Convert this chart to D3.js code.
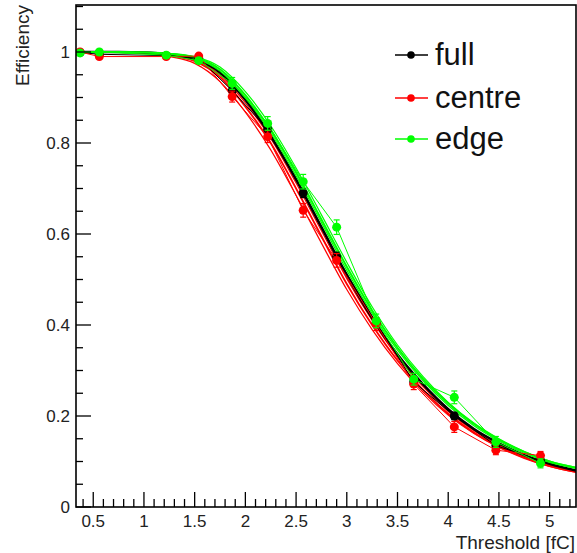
<!DOCTYPE html>
<html><head><meta charset="utf-8">
<script src="https://cdn.jsdelivr.net/npm/d3@7"></script>
<style>body{margin:0;background:#fff;}svg{display:block;font-family:"Liberation Sans",Arial,sans-serif;}</style>
</head><body><svg id="c" width="577" height="553"></svg>
<script>
// ---- data ----
const pointX = [0.37, 0.56, 1.22, 1.54, 1.87, 2.22, 2.57, 2.9, 3.29, 3.66, 4.06, 4.47, 4.91];
const fullY  = [0.999, 0.995, 0.992, 0.986, 0.915, 0.83, 0.69, 0.55, 0.405, 0.275, 0.20, 0.135, 0.102];
const fullErr= [0.002, 0.003, 0.003, 0.004, 0.008, 0.009, 0.010, 0.010, 0.010, 0.008, 0.008, 0.007, 0.006];
const centreY  = [1.0, 0.99, 0.99, 0.991, 0.902, 0.814, 0.652, 0.542, 0.402, 0.27, 0.176, 0.125, 0.113];
const centreErr= [0.003, 0.004, 0.004, 0.005, 0.012, 0.013, 0.015, 0.015, 0.014, 0.012, 0.012, 0.010, 0.009];
const edgeY  = [0.998, 1.0, 0.993, 0.981, 0.931, 0.843, 0.715, 0.615, 0.409, 0.281, 0.241, 0.143, 0.096];
const edgeErr= [0.003, 0.004, 0.004, 0.006, 0.013, 0.015, 0.016, 0.016, 0.015, 0.013, 0.014, 0.012, 0.010];

const fitX = [0.33, 0.75, 1.0, 1.25, 1.5, 1.75, 2.0, 2.25, 2.5, 2.75, 3.0, 3.25, 3.5, 3.75, 4.0, 4.25, 4.5, 4.75, 5.0, 5.26];
const fitFull   = [1.0, 1.0, 0.999, 0.995, 0.985, 0.955, 0.895, 0.815, 0.72, 0.615, 0.51, 0.415, 0.335, 0.27, 0.215, 0.172, 0.14, 0.114, 0.095, 0.08];
const fitCentreA= [1.0, 1.0, 0.998, 0.993, 0.98, 0.945, 0.88, 0.80, 0.70, 0.595, 0.49, 0.40, 0.322, 0.258, 0.205, 0.164, 0.133, 0.109, 0.09, 0.077];
const fitCentreB= [1.0, 0.999, 0.997, 0.99, 0.975, 0.935, 0.868, 0.785, 0.685, 0.58, 0.478, 0.39, 0.315, 0.253, 0.202, 0.162, 0.131, 0.107, 0.089, 0.076];
const fitCentreC= [1.0, 1.0, 0.999, 0.995, 0.983, 0.95, 0.888, 0.81, 0.712, 0.607, 0.502, 0.41, 0.33, 0.265, 0.21, 0.168, 0.136, 0.111, 0.092, 0.078];
const fitEdgeA  = [1.0, 1.0, 0.999, 0.996, 0.988, 0.962, 0.905, 0.828, 0.735, 0.632, 0.528, 0.432, 0.35, 0.282, 0.228, 0.183, 0.148, 0.121, 0.10, 0.086];
const fitEdgeB  = [1.0, 1.0, 0.999, 0.997, 0.99, 0.967, 0.913, 0.838, 0.745, 0.642, 0.538, 0.44, 0.356, 0.287, 0.23, 0.185, 0.15, 0.122, 0.101, 0.087];
const fitEdgeC  = [1.0, 1.0, 0.999, 0.995, 0.986, 0.958, 0.90, 0.822, 0.728, 0.625, 0.52, 0.425, 0.345, 0.278, 0.223, 0.179, 0.145, 0.118, 0.098, 0.085];

const xTicks = [0.5, 1, 1.5, 2, 2.5, 3, 3.5, 4, 4.5, 5];
const yTicks = [0, 0.2, 0.4, 0.6, 0.8, 1];
const legendLabels = ["full", "centre", "edge"];
const colors = {full: "#000000", centre: "#ff0000", edge: "#00ff00"};

// ---- layout ----
const svg = d3.select("#c");
const L = 76, R = 576, T = 5, B = 507;
const x = d3.scaleLinear().domain([0.33, 5.26]).range([L, R]);
const y = d3.scaleLinear().domain([0, 1]).range([B, 52]);

const clip = svg.append("clipPath").attr("id","clp").append("rect")
  .attr("x", L).attr("y", T).attr("width", R-L).attr("height", B-T);
const plot = svg.append("g").attr("clip-path","url(#clp)");

const curve = d3.line().x((d,i)=>x(fitX[i])).y(d=>y(d)).curve(d3.curveMonotoneX);
function drawFit(arr, col, w){
  plot.append("path").attr("d", curve(arr)).attr("fill","none").attr("stroke", col).attr("stroke-width", w);
}
drawFit(fitCentreB, colors.centre, 1.2);
drawFit(fitCentreC, colors.centre, 1.2);
drawFit(fitCentreA, colors.centre, 1.8);
drawFit(fitFull, colors.full, 2.6);
drawFit(fitEdgeC, colors.edge, 1.2);
drawFit(fitEdgeB, colors.edge, 1.2);
drawFit(fitEdgeA, colors.edge, 2.0);

function drawSeries(vals, errs, col){
  const g = plot.append("g");
  const ln = d3.line().x((d,i)=>x(pointX[i])).y(d=>y(d));
  g.append("path").attr("d", ln(vals)).attr("fill","none").attr("stroke", col).attr("stroke-width", 1);
  vals.forEach((v,i)=>{
    const cx = x(pointX[i]);
    const y1 = y(v+errs[i]), y2 = y(v-errs[i]);
    g.append("line").attr("x1",cx).attr("x2",cx).attr("y1",y1).attr("y2",y2).attr("stroke",col).attr("stroke-width",1.2);
    g.append("line").attr("x1",cx-3).attr("x2",cx+3).attr("y1",y1).attr("y2",y1).attr("stroke",col).attr("stroke-width",1.2);
    g.append("line").attr("x1",cx-3).attr("x2",cx+3).attr("y1",y2).attr("y2",y2).attr("stroke",col).attr("stroke-width",1.2);
    g.append("circle").attr("cx",cx).attr("cy",y(v)).attr("r",4.5).attr("fill",col);
  });
}
drawSeries(fullY, fullErr, colors.full);
drawSeries(centreY, centreErr, colors.centre);
drawSeries(edgeY, edgeErr, colors.edge);

// ---- axes ----
const ax = svg.append("g").attr("stroke","#000");
// minor x ticks every 0.1
d3.range(4, 53).map(v=>v/10).forEach(v=>{
  if (v < 0.33 || v > 5.26) return;
  const major = Math.abs(v*2 - Math.round(v*2)) < 1e-6;
  ax.append("line").attr("x1",x(v)).attr("x2",x(v)).attr("y1",B).attr("y2",B-(major?15:8)).attr("stroke-width",1.3);
});
// y ticks every 0.05
d3.range(0, 23).map(v=>v*0.05).forEach(v=>{
  const major = Math.abs(v*5 - Math.round(v*5)) < 1e-6;
  ax.append("line").attr("x1",L).attr("x2",L+(major?15:7)).attr("y1",y(v)).attr("y2",y(v)).attr("stroke-width",1.3);
});
svg.append("rect").attr("x",L).attr("y",T).attr("width",R-L).attr("height",B-T)
  .attr("fill","none").attr("stroke","#000").attr("stroke-width",1.6);

svg.append("g").selectAll("text").data(xTicks).join("text")
  .attr("x", d=>x(d)).attr("y", 527).attr("text-anchor","middle")
  .attr("font-size",17).attr("fill","#222").text(d=>d);
svg.append("g").selectAll("text").data(yTicks).join("text")
  .attr("x", 70).attr("y", d=>y(d)+6).attr("text-anchor","end")
  .attr("font-size",17).attr("fill","#222").text(d=>d);

svg.append("text").attr("x",575).attr("y",549).attr("text-anchor","end")
  .attr("font-size",19).attr("fill","#222").text("Threshold [fC]");
svg.append("text").attr("transform","translate(29,5) rotate(-90)").attr("text-anchor","end")
  .attr("font-size",19).attr("fill","#222").text("Efficiency");

// ---- legend ----
const legCols = [colors.full, colors.centre, colors.edge];
const legY = [55, 98, 139];
legendLabels.forEach((lab,i)=>{
  svg.append("line").attr("x1",395).attr("x2",428).attr("y1",legY[i]).attr("y2",legY[i]).attr("stroke",legCols[i]).attr("stroke-width",1.5);
  svg.append("circle").attr("cx",411).attr("cy",legY[i]).attr("r",3.8).attr("fill",legCols[i]);
  svg.append("text").attr("x",435).attr("y",legY[i]+10).attr("font-size",31).attr("fill","#111").text(lab);
});
</script></body></html>
